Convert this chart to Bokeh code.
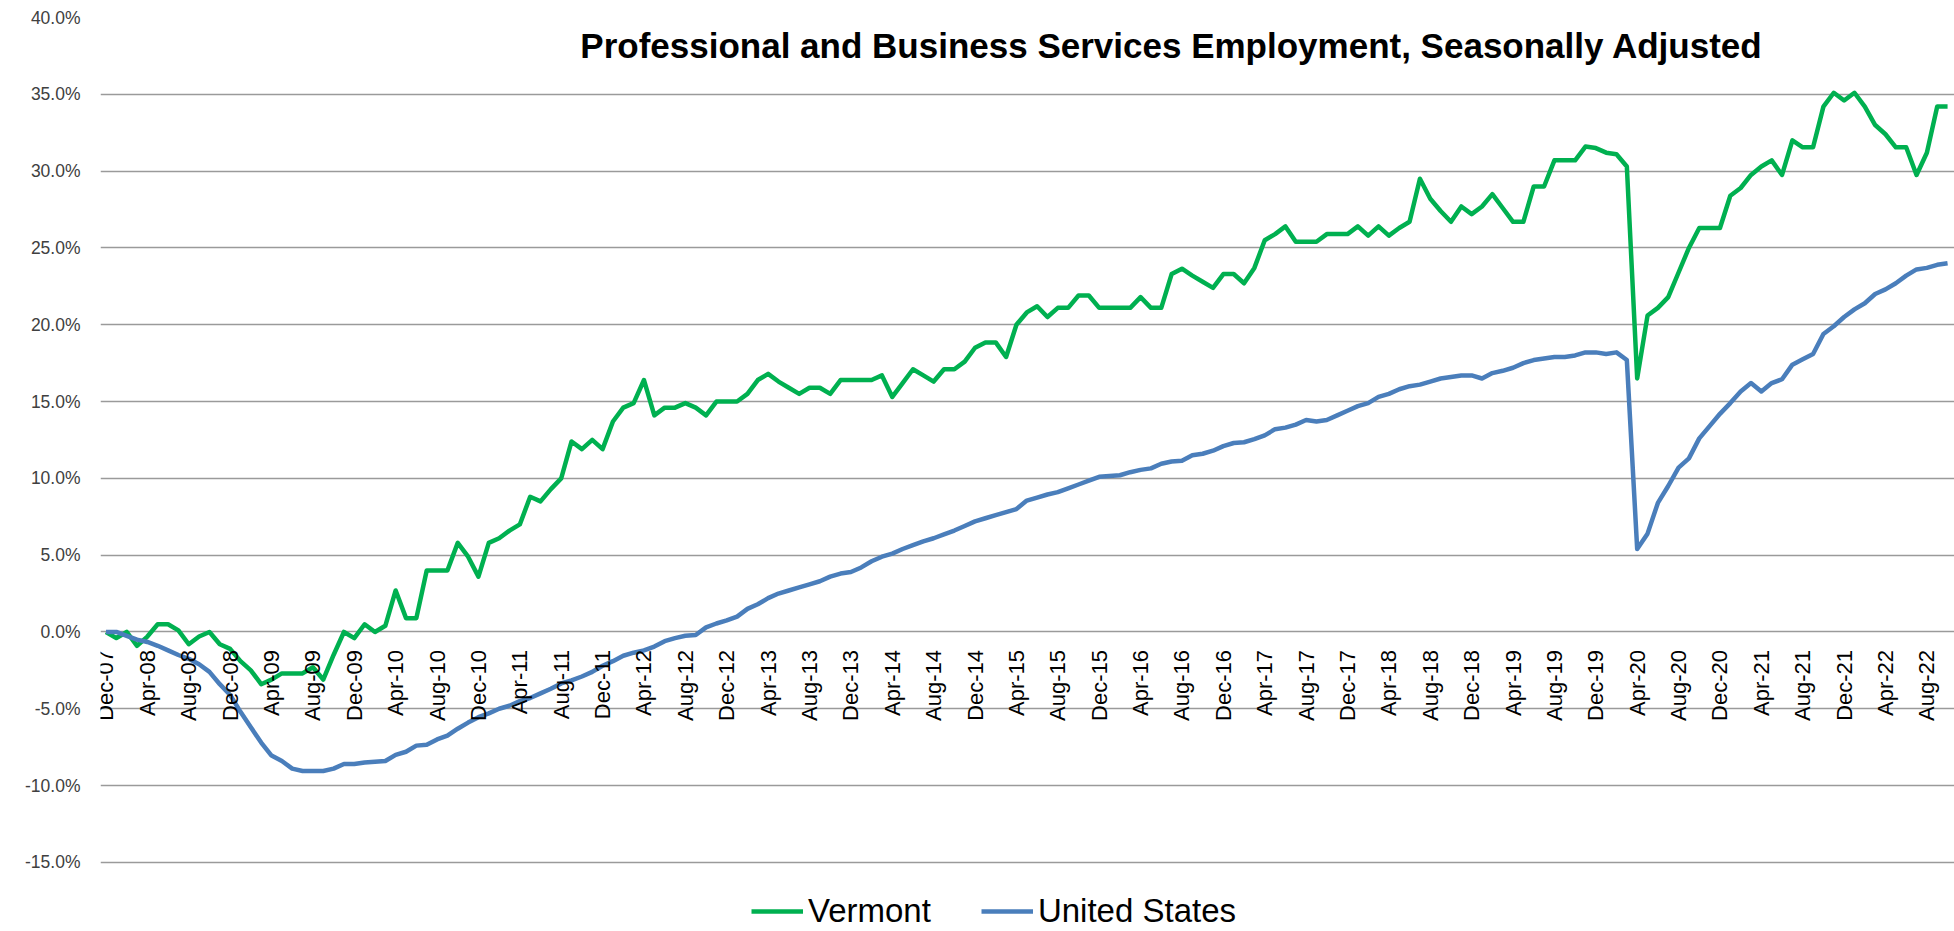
import math
from bokeh.plotting import figure
from bokeh.models import (Range1d, FixedTicker, PrintfTickFormatter, Legend, LegendItem, Label)
from bokeh.embed import file_html
from bokeh.resources import INLINE

title_text = "Professional and Business Services Employment, Seasonally Adjusted"

# month index 0 = Dec-07, monthly
tick_labels = ["Dec-07", "Apr-08", "Aug-08", "Dec-08", "Apr-09", "Aug-09", "Dec-09", "Apr-10",
               "Aug-10", "Dec-10", "Apr-11", "Aug-11", "Dec-11", "Apr-12", "Aug-12", "Dec-12",
               "Apr-13", "Aug-13", "Dec-13", "Apr-14", "Aug-14", "Dec-14", "Apr-15", "Aug-15",
               "Dec-15", "Apr-16", "Aug-16", "Dec-16", "Apr-17", "Aug-17", "Dec-17", "Apr-18",
               "Aug-18", "Dec-18", "Apr-19", "Aug-19", "Dec-19", "Apr-20", "Aug-20", "Dec-20",
               "Apr-21", "Aug-21", "Dec-21", "Apr-22", "Aug-22"]

vermont = [0.0, -0.4, 0.0, -0.9, -0.3, 0.5, 0.5, 0.1, -0.8, -0.3,
           0.0, -0.8, -1.1, -1.9, -2.5, -3.4, -3.1, -2.7, -2.7, -2.7,
           -2.3, -3.1, -1.5, 0.0, -0.4, 0.5, 0.0, 0.4, 2.7, 0.9,
           0.9, 4.0, 4.0, 4.0, 5.8, 4.9, 3.6, 5.8, 6.1, 6.6,
           7.0, 8.8, 8.5, 9.3, 10.0, 12.4, 11.9, 12.5, 11.9, 13.7,
           14.6, 14.9, 16.4, 14.1, 14.6, 14.6, 14.9, 14.6, 14.1, 15.0,
           15.0, 15.0, 15.5, 16.4, 16.8, 16.3, 15.9, 15.5, 15.9, 15.9,
           15.5, 16.4, 16.4, 16.4, 16.4, 16.7, 15.3, 16.2, 17.1, 16.7,
           16.3, 17.1, 17.1, 17.6, 18.5, 18.85, 18.85, 17.9, 20.0, 20.8,
           21.2, 20.5, 21.1, 21.1, 21.9, 21.9, 21.1, 21.1, 21.1, 21.1,
           21.8, 21.1, 21.1, 23.3, 23.65, 23.2, 22.8, 22.4, 23.3, 23.3,
           22.7, 23.7, 25.5, 25.9, 26.4, 25.4, 25.4, 25.4, 25.9, 25.9,
           25.9, 26.4, 25.8, 26.4, 25.8, 26.3, 26.7, 29.5, 28.2, 27.4,
           26.7, 27.7, 27.2, 27.7, 28.5, 27.6, 26.7, 26.7, 29.0, 29.0,
           30.7, 30.7, 30.7, 31.6, 31.5, 31.2, 31.1, 30.3, 16.5, 20.6,
           21.1, 21.8, 23.4, 25.0, 26.3, 26.3, 26.3, 28.4, 28.9, 29.75,
           30.3, 30.7, 29.75, 32.0, 31.55, 31.55, 34.2, 35.1, 34.6, 35.1,
           34.2, 33.0, 32.4, 31.55, 31.55, 29.75, 31.2, 34.2, 34.2]

united_states = [0.0, 0.0, -0.25, -0.5, -0.65, -0.9, -1.2, -1.5, -1.75, -2.1,
                 -2.6, -3.4, -4.1, -5.2, -6.2, -7.2, -8.05, -8.4, -8.9, -9.05,
                 -9.05, -9.05, -8.9, -8.6, -8.6, -8.5, -8.45, -8.4, -8.0, -7.8,
                 -7.4, -7.35, -7.0, -6.75, -6.3, -5.9, -5.55, -5.3, -5.0, -4.8,
                 -4.5, -4.3, -4.0, -3.7, -3.35, -3.15, -2.9, -2.6, -2.2, -1.9,
                 -1.55, -1.35, -1.2, -0.95, -0.6, -0.4, -0.25, -0.2, 0.3, 0.55,
                 0.75, 1.0, 1.5, 1.8, 2.2, 2.5, 2.7, 2.9, 3.1, 3.3,
                 3.6, 3.8, 3.9, 4.2, 4.6, 4.9, 5.1, 5.4, 5.65, 5.9,
                 6.1, 6.35, 6.6, 6.9, 7.2, 7.4, 7.6, 7.8, 8.0, 8.55,
                 8.75, 8.95, 9.1, 9.35, 9.6, 9.85, 10.1, 10.15, 10.2, 10.4,
                 10.55, 10.65, 10.95, 11.1, 11.15, 11.5, 11.6, 11.8, 12.1, 12.3,
                 12.35, 12.55, 12.8, 13.2, 13.3, 13.5, 13.8, 13.7, 13.8, 14.1,
                 14.4, 14.7, 14.9, 15.3, 15.5, 15.8, 16.0, 16.1, 16.3, 16.5,
                 16.6, 16.7, 16.7, 16.5, 16.85, 17.0, 17.2, 17.5, 17.7, 17.8,
                 17.9, 17.9, 18.0, 18.2, 18.2, 18.1, 18.2, 17.7, 5.4, 6.4,
                 8.4, 9.5, 10.7, 11.3, 12.6, 13.4, 14.2, 14.9, 15.65, 16.2,
                 15.65, 16.2, 16.45, 17.4, 17.75, 18.1, 19.4, 19.9, 20.5, 21.0,
                 21.4, 22.0, 22.3, 22.7, 23.2, 23.6, 23.7, 23.9, 24.0]

y_ticks = [-15, -10, -5, 0, 5, 10, 15, 20, 25, 30, 35, 40]

FONT = "Liberation Sans"
GREEN = "#00B050"
BLUE = "#4A7EBB"
GRID = "#9a9a9a"

months = list(range(len(vermont)))
tick_pos = [4 * k for k in range(len(tick_labels))]

p = figure(width=1954, height=931, output_backend="svg", toolbar_location=None,
           x_range=Range1d(-0.53, 178.67), y_range=Range1d(-19.5, 40.0),
           min_border_left=100, min_border_right=0, min_border_top=17, min_border_bottom=0)
p.outline_line_color = None
p.background_fill_color = "white"
p.border_fill_color = "white"

# grid
p.xgrid.visible = False
p.ygrid.ticker = FixedTicker(ticks=y_ticks)
p.ygrid.grid_line_color = GRID
p.ygrid.grid_line_width = 1.6

# y axis
yax = p.yaxis[0]
yax.ticker = FixedTicker(ticks=y_ticks)
yax.formatter = PrintfTickFormatter(format="%.1f%%")
yax.axis_line_color = None
yax.major_tick_line_color = None
yax.minor_tick_line_color = None
yax.major_tick_out = 0
yax.major_label_standoff = 20
yax.major_label_text_font = FONT
yax.major_label_text_font_size = "17.5px"
yax.major_label_text_color = "#404040"

# x axis crossing at 0
xax = p.xaxis[0]
xax.fixed_location = 0
xax.ticker = FixedTicker(ticks=tick_pos)
xax.major_label_overrides = {pos: lab for pos, lab in zip(tick_pos, tick_labels)}
xax.major_label_orientation = math.pi / 2
xax.axis_line_color = None
xax.major_tick_line_color = None
xax.minor_tick_line_color = None
xax.major_tick_out = 0
xax.major_tick_in = 0
xax.major_label_standoff = 18
xax.major_label_text_font = FONT
xax.major_label_text_font_size = "22px"
xax.major_label_text_color = "#000000"

r_vt = p.line(months, vermont, line_color=GREEN, line_width=4.5, line_join="round")
r_us = p.line(months, united_states, line_color=BLUE, line_width=4.5, line_join="round")

legend = Legend(items=[LegendItem(label="Vermont", renderers=[r_vt]),
                       LegendItem(label="United States", renderers=[r_us])],
                orientation="horizontal", location=(651, 1))
legend.background_fill_alpha = 0
legend.border_line_color = None
legend.padding = 0
legend.margin = 0
legend.spacing = 50
legend.glyph_width = 52
legend.glyph_height = 30
legend.label_standoff = 5
legend.label_text_font = FONT
legend.label_text_font_size = "33px"
legend.label_text_color = "#000000"
p.add_layout(legend, "center")

title = Label(x=103.0, y=38.2, text=title_text, text_align="center",
              text_baseline="alphabetic", text_font=FONT, text_font_size="35px",
              text_font_style="bold", text_color="#000000")
p.add_layout(title)

open("out.html", "w").write(file_html(p, INLINE))
